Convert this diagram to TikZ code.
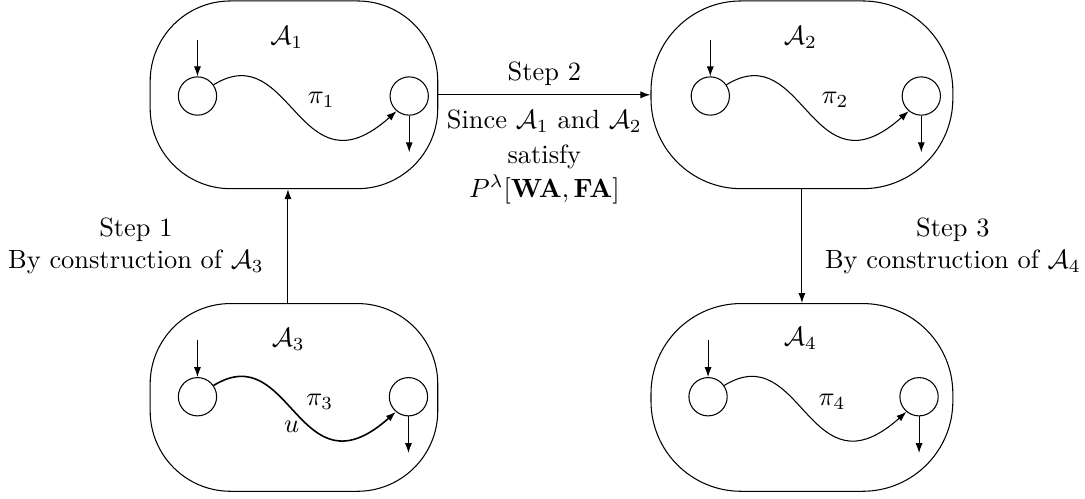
\documentclass[tikz,border=0pt]{standalone}
\usepackage{amsmath,amssymb}
\usetikzlibrary{arrows.meta,positioning}

\begin{document}
\begin{tikzpicture}[
    state/.style={draw,circle,minimum size=0.51cm,inner sep=0pt},
    autbox/.style={draw,minimum height=2.5cm,inner sep=0pt},
    >={Latex[length=3.8pt,width=2.7pt]}]
    \useasboundingbox (0,0) rectangle (14.45,6.633);

    % Automaton boxes
    \node[autbox,rounded corners=1.07cm,minimum width=3.83cm] (boxA) at (3.915,5.37) {};
    \node[autbox,rounded corners=1.2cm,minimum width=4.02cm] (boxB) at (10.68,5.37) {};
    \node[autbox,rounded corners=1.07cm,minimum width=3.83cm] (boxC) at (3.915,1.34) {};
    \node[autbox,rounded corners=1.2cm,minimum width=4.02cm] (boxD) at (10.68,1.34) {};

    % A_1
    \node (n1) at (3.82,6.14) {$\mathcal{A}_1$};
    \node[state] (p1) at (2.63,5.354) {};
    \node[state] (q1) at (5.45,5.354) {};
    \draw[<-] (p1) -- ++(0,0.75);
    \draw[->] (q1) -- ++(0,-0.75);
    \draw[->] (p1.35) .. controls +(1.04,0.64) and +(-1.3,-1.16) .. (q1.230);
    \node (l1) at (4.28,5.30) {$\pi_1$};

    % A_2
    \node (n2) at (10.66,6.14) {$\mathcal{A}_2$};
    \node[state] (p2) at (9.46,5.354) {};
    \node[state] (q2) at (12.27,5.354) {};
    \draw[<-] (p2) -- ++(0,0.75);
    \draw[->] (q2) -- ++(0,-0.75);
    \draw[->] (p2.35) .. controls +(1.04,0.64) and +(-1.3,-1.16) .. (q2.230);
    \node (l2) at (11.12,5.30) {$\pi_2$};

    % A_3 (path u drawn a bit heavier)
    \node (n3) at (3.84,2.11) {$\mathcal{A}_3$};
    \node[state] (p3) at (2.63,1.349) {};
    \node[state] (q3) at (5.44,1.349) {};
    \draw[<-] (p3) -- ++(0,0.75);
    \draw[->] (q3) -- ++(0,-0.75);
    \draw[->,semithick] (p3.35) .. controls +(1.04,0.64) and +(-1.3,-1.16) .. (q3.230);
    \node (l3) at (4.26,1.28) {$\pi_3$};
    \node (u3) at (3.885,0.95) {$u$};

    % A_4
    \node (n4) at (10.66,2.13) {$\mathcal{A}_4$};
    \node[state] (p4) at (9.43,1.349) {};
    \node[state] (q4) at (12.24,1.349) {};
    \draw[<-] (p4) -- ++(0,0.75);
    \draw[->] (q4) -- ++(0,-0.75);
    \draw[->] (p4.35) .. controls +(1.04,0.64) and +(-1.3,-1.16) .. (q4.230);
    \node (l4) at (11.08,1.28) {$\pi_4$};

    % Steps
    \draw[->] ([xshift=-0.08cm]boxC.north) -- ([xshift=-0.08cm]boxA.south);
    \node[align=center] (s1) at (1.81,3.356) {Step 1\\By construction of $\mathcal{A}_3$};

    \draw[->] (boxA) -- (boxB)
        node[midway,above] (s2) {Step 2}
        node[midway,below=0.08cm,align=center] (s2b) {Since $\mathcal{A}_1$ and $\mathcal{A}_2$\\[1pt]satisfy\\[1pt]$P^\lambda[\mathbf{WA},\mathbf{FA}]$};

    \draw[->] (boxB) -- (boxD);
    \node[align=center] (s3) at (12.69,3.356) {Step 3\\By construction of $\mathcal{A}_4$};
\end{tikzpicture}
\end{document}
